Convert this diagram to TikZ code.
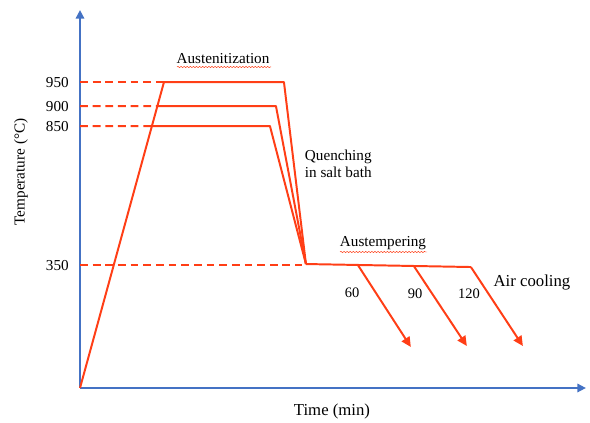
\documentclass[tikz,border=0pt]{standalone}
\usepackage{fontspec}
\setmainfont{Liberation Serif}
\usetikzlibrary{positioning,calc,arrows.meta,decorations.pathmorphing}
\definecolor{heatred}{RGB}{255,62,22}
\definecolor{axisblue}{RGB}{68,114,196}
\tikzset{>={Triangle[length=7pt,width=6.5pt]}}
\tikzset{
  cycle/.style={heatred,line width=1.4pt},
  level/.style={heatred,line width=1.4pt,dash pattern=on 5.6pt off 3.4pt},
  axisline/.style={axisblue,line width=1.2pt,-{Triangle[length=6pt,width=6pt]}},
  squiggle/.style={heatred,line width=.35pt,decorate,
    decoration={snake,amplitude=.45pt,segment length=2.2pt}},
  tick/.style={anchor=east,inner sep=0pt,font=\fontsize{10.8}{13}\selectfont}
}
\newcommand*{\lb}{\fontsize{10.8}{12.8}\selectfont}
\newcommand*{\lbb}{\fontsize{11.9}{14}\selectfont}

\begin{document}
\begin{tikzpicture}[scale=.025]
\useasboundingbox (-80,-35) rectangle (510,388);
\coordinate (O) at (0,0);
\coordinate (Ytop) at (0,378);
\coordinate (Xend) at (506,0);
% heating, holding, quenching
\coordinate (A) at (84,306);
\coordinate (B) at (204,306);
\coordinate (C) at (196,282);
\coordinate (D) at (190,262);
\coordinate (H900) at ($(O)!282/306!(A)$);
\coordinate (H850) at ($(O)!262/306!(A)$);
\coordinate (Q) at (226,124);
\coordinate (E) at (391,121);
\coordinate (P60) at ($(Q)!52/165!(E)$);
\coordinate (P90) at ($(Q)!108/165!(E)$);
\coordinate (T950) at (0,306);
\coordinate (T900) at (0,282);
\coordinate (T850) at (0,262);
\coordinate (T350) at (0,123);
\coordinate (S350) at (222,123);
% axes
\draw[axisline] (O) -- (Ytop);
\draw[axisline] (O) -- (Xend);
\node[tick] at ($(T950)+(-11,0)$) {950};
\node[tick] at ($(T900)+(-11,0)$) {900};
\node[tick] at ($(T850)+(-11,0)$) {850};
\node[tick] at ($(T350)+(-11,0)$) {350};
\node[rotate=90] (ylab) at (-59,216) {\lb Temperature (°C)};
\node (xlab) at (252,-23) {\lbb Time (min)};
% levels
\draw[level] (T950) -- (A);
\draw[level] (T900) -- (H900);
\draw[level] (T850) -- (H850);
\draw[level] (T350) -- (S350);
% cycle
\draw[cycle,line join=round] (O) -- (A) -- (B) -- (Q);
\draw[cycle,line join=round] (H900) -- (C) -- (Q);
\draw[cycle,line join=round] (H850) -- (D) -- (Q);
\draw[cycle] (Q) -- (E);
\draw[cycle,->] (P60) -- ++(53,-82) coordinate (R60);
\draw[cycle,->] (P90) -- ++(53,-80) coordinate (R90);
\draw[cycle,->] (E) -- ++(52,-79) coordinate (R120);
% labels
\node (aus) at (143,329) {\lb Austenitization};
\draw[squiggle] (97,321) -- (191,321);
\node[anchor=west,align=left] (quench) at (220,224) {\lb Quenching\\\lb in salt bath};
\node (temper) at (303,145) {\lb Austempering};
\draw[squiggle] (260,136) -- (347,136);
\node (t60) at (272,95) {\fontsize{10.3}{12}\selectfont 60};
\node (t90) at (335,94) {\fontsize{10.3}{12}\selectfont 90};
\node (t120) at (389,94) {\fontsize{10.3}{12}\selectfont 120};
\node (air) at (452,105) {\lbb Air cooling};
\end{tikzpicture}
\end{document}
